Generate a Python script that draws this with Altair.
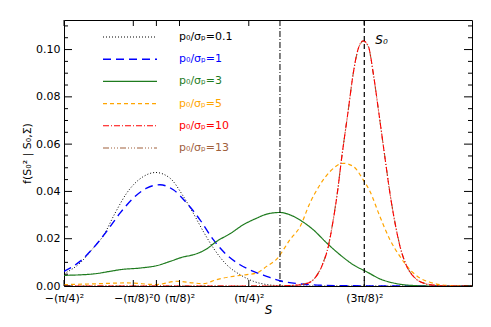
import altair as alt
import pandas as pd

# ---------------- data ----------------
x_p01 = [-0.617, -0.510, -0.421, -0.354, -0.276, -0.198, -0.087, -0.005, 0.091, 0.180, 0.246, 0.313, 0.380, 0.469, 0.558, 0.647, 0.736, 0.803, 0.90, 1.10, 1.50, 2.107]
y_p01 = [0.0052, 0.0097, 0.0161, 0.0213, 0.0308, 0.0393, 0.0463, 0.0480, 0.0456, 0.0379, 0.0308, 0.0231, 0.0161, 0.0090, 0.0048, 0.0020, 0.0006, 0.0002, 0.0, 0.0, 0.0, 0.0]

x_p1 = [-0.617, -0.510, -0.421, -0.332, -0.243, -0.154, -0.065, 0.024, 0.113, 0.202, 0.291, 0.380, 0.469, 0.558, 0.647, 0.736, 0.825, 0.96, 1.11, 1.30, 1.60, 2.107]
y_p1 = [0.0062, 0.0104, 0.0161, 0.0231, 0.0308, 0.0372, 0.0414, 0.0428, 0.0407, 0.0351, 0.0280, 0.0196, 0.0132, 0.0090, 0.0062, 0.0041, 0.0022, 0.0009, 0.0003, 0.0001, 0.0, 0.0]

x_p3 = [-0.617, -0.421, -0.310, -0.243, -0.109, 0.002, 0.091, 0.180, 0.246, 0.336, 0.403, 0.491, 0.580, 0.670, 0.736, 0.825, 0.892, 0.956, 1.047, 1.137, 1.226, 1.314, 1.404, 1.493, 1.581, 1.693, 1.827, 2.107]
y_p3 = [0.0045, 0.0051, 0.0062, 0.0069, 0.0076, 0.0086, 0.0104, 0.0123, 0.0132, 0.0157, 0.0189, 0.0221, 0.0259, 0.0287, 0.0304, 0.0311, 0.0301, 0.0280, 0.0238, 0.0182, 0.0132, 0.0090, 0.0060, 0.0030, 0.0013, 0.0003, 0.0, 0.0]

x_p5 = [-0.617, -0.421, -0.198, 0.002, 0.135, 0.246, 0.313, 0.403, 0.513, 0.603, 0.670, 0.736, 0.803, 0.892, 0.960, 1.025, 1.092, 1.159, 1.248, 1.314, 1.381, 1.426, 1.492, 1.559, 1.626, 1.693, 1.759, 1.826, 1.90, 2.00, 2.107]
y_p5 = [0.0006, 0.0009, 0.0013, 0.0006, 0.0020, 0.0013, 0.0010, 0.0027, 0.0041, 0.0048, 0.0055, 0.0083, 0.0114, 0.0196, 0.0252, 0.0351, 0.0428, 0.0484, 0.0519, 0.0506, 0.0449, 0.0400, 0.0294, 0.0196, 0.0125, 0.0069, 0.0034, 0.0016, 0.0005, 0.0001, 0.0]

x_p10 = [-0.617, 0.80, 0.90, 1.003, 1.059, 1.104, 1.148, 1.181, 1.208, 1.237, 1.281, 1.314, 1.348, 1.381, 1.415, 1.448, 1.481, 1.526, 1.559, 1.593, 1.626, 1.671, 1.726, 1.793, 1.86, 1.95, 2.107]
y_p10 = [0.0, 0.0, 0.0002, 0.0010, 0.0034, 0.0083, 0.0168, 0.0280, 0.0393, 0.0542, 0.0744, 0.0899, 0.1005, 0.1037, 0.1014, 0.0899, 0.0751, 0.0542, 0.0393, 0.0266, 0.0168, 0.0083, 0.0034, 0.0010, 0.0003, 0.0, 0.0]

x_p13 = [-0.617, 0.80, 0.90, 1.003, 1.059, 1.104, 1.148, 1.181, 1.208, 1.237, 1.281, 1.314, 1.348, 1.381, 1.415, 1.448, 1.481, 1.526, 1.559, 1.593, 1.626, 1.671, 1.726, 1.793, 1.86, 1.95, 2.107]
y_p13 = [0.0, 0.0, 0.0002, 0.0011, 0.0035, 0.0085, 0.0170, 0.0282, 0.0395, 0.0543, 0.0744, 0.0898, 0.1003, 0.1035, 0.1012, 0.0898, 0.0750, 0.0543, 0.0395, 0.0268, 0.0170, 0.0085, 0.0035, 0.0011, 0.0003, 0.0, 0.0]

series_labels = ["p₀/σₚ=0.1", "p₀/σₚ=1", "p₀/σₚ=3", "p₀/σₚ=5", "p₀/σₚ=10", "p₀/σₚ=13"]
series_colors = ["#000000", "#0000ff", "#1e7b1e", "#ffa500", "#ff0000", "#a0603c"]
series_dashes = [[1, 2], [8, 5], [1, 0], [4, 3], [6, 2, 1, 2], [6, 2, 1, 2, 1, 2, 1, 2]]
series_widths = [1.0, 1.4, 1.2, 1.2, 1.1, 1.1]
series_x = [x_p01, x_p1, x_p3, x_p5, x_p10, x_p13]
series_y = [y_p01, y_p1, y_p3, y_p5, y_p10, y_p13]
draw_order = [0, 1, 2, 3, 5, 4]

x_tick_values = [-0.61685, -0.15421, 0.0, 0.15421, 0.61685, 1.38791]
x_tick_labels = ["−(π/4)²", "−(π/8)²", "0", "(π/8)²", "(π/4)²", "(3π/8)²"]
y_major = [0.0, 0.02, 0.04, 0.06, 0.08, 0.10]
y_minor = [0.005, 0.01, 0.015, 0.025, 0.03, 0.035, 0.045, 0.05, 0.055, 0.065, 0.07, 0.075, 0.085, 0.09, 0.095, 0.105, 0.11]

s_dashdot = [0.825]
s_zero = [1.38791]

# ---------------- chart ----------------
W, H = 408, 266
FONT = "DejaVu Sans"

xs = alt.Scale(domain=[-0.61685, 2.107], nice=False, zero=False)
ys = alt.Scale(domain=[0, 0.1125], nice=False, zero=False)

label_expr = " : ".join(
    f"abs(datum.value - ({v})) < 0.0001 ? '{t}'" for v, t in zip(x_tick_values, x_tick_labels)
) + " : ''"

xaxis = alt.Axis(values=x_tick_values, labelExpr=label_expr, ticks=False, domain=False, grid=False,
                 labelOverlap=False, labelFlush=False, labelBound=False, labelPadding=6,
                 labelFontSize=11, labelFont=FONT, labelColor="black",
                 titleFont=FONT, titleFontSize=12, titleFontStyle="italic", titleFontWeight="normal",
                 titleColor="black", titlePadding=1)
yaxis = alt.Axis(values=y_major, format=".2f", ticks=False, domain=False, grid=False,
                 labelPadding=4, labelFontSize=11, labelFont=FONT, labelColor="black",
                 titleFont=FONT, titleFontSize=11, titleFontWeight="normal", titleColor="black",
                 titlePadding=3)

X = alt.X("x:Q", scale=xs, axis=xaxis, title="S")
Y = alt.Y("y:Q", scale=ys, axis=yaxis, title="f(S₀² | S₀,Σ)")

layers = []
for i in draw_order:
    df = pd.DataFrame({"x": series_x[i], "y": series_y[i]})
    layers.append(
        alt.Chart(df).mark_line(color=series_colors[i], strokeDash=series_dashes[i],
                                strokeWidth=series_widths[i], interpolate="monotone", clip=True)
        .encode(x=X, y=Y)
    )

# vertical reference lines
layers.append(alt.Chart(pd.DataFrame({"x": s_dashdot})).mark_rule(
    color="black", strokeDash=[6, 2, 1, 2], strokeWidth=1).encode(x=X))
layers.append(alt.Chart(pd.DataFrame({"x": s_zero})).mark_rule(
    color="black", strokeDash=[5, 3], strokeWidth=1.2).encode(x=X))
layers.append(alt.Chart(pd.DataFrame({"x": s_zero, "t": ["S₀"]})).mark_text(
    font=FONT, fontSize=12, fontStyle="italic", align="left", baseline="middle", dx=11, color="black"
).encode(x=X, y=alt.value(20), text="t:N"))

# inward ticks (IDL style box)
ymaj = pd.DataFrame({"y": y_major})
ymin = pd.DataFrame({"y": y_minor})
xmaj = pd.DataFrame({"x": x_tick_values})
for df, x1, x2 in [(ymaj, 0, 8), (ymaj, W - 8, W), (ymin, 0, 4), (ymin, W - 4, W)]:
    layers.append(alt.Chart(df).mark_rule(color="black", strokeWidth=1).encode(
        y=Y, x=alt.value(x1), x2=alt.value(x2)))
for y1, y2 in [(H - 6, H), (0, 6)]:
    layers.append(alt.Chart(xmaj).mark_rule(color="black", strokeWidth=1).encode(
        x=X, y=alt.value(y1), y2=alt.value(y2)))

# legend (drawn in the plot, top-left)
for k in range(len(series_labels)):
    ry = 17 + 22.2 * k
    ldf = pd.DataFrame({"t": [series_labels[k]]})
    layers.append(alt.Chart(ldf).mark_rule(color=series_colors[k], strokeDash=series_dashes[k],
                                           strokeWidth=series_widths[k]).encode(
        x=alt.value(39), x2=alt.value(93), y=alt.value(ry)))
    layers.append(alt.Chart(ldf).mark_text(font=FONT, fontSize=11, align="left", baseline="middle",
                                           color=series_colors[k]).encode(
        x=alt.value(115), y=alt.value(ry), text="t:N"))

chart = alt.layer(*layers).properties(
    width=W, height=H,
    autosize=alt.AutoSizeParams(type="none"),
    padding={"left": 56, "top": 12, "right": 11, "bottom": 33},
    background="white",
).configure_view(stroke="black", strokeWidth=1)

chart.save("out.html", embed_options={"renderer": "svg", "actions": False})
